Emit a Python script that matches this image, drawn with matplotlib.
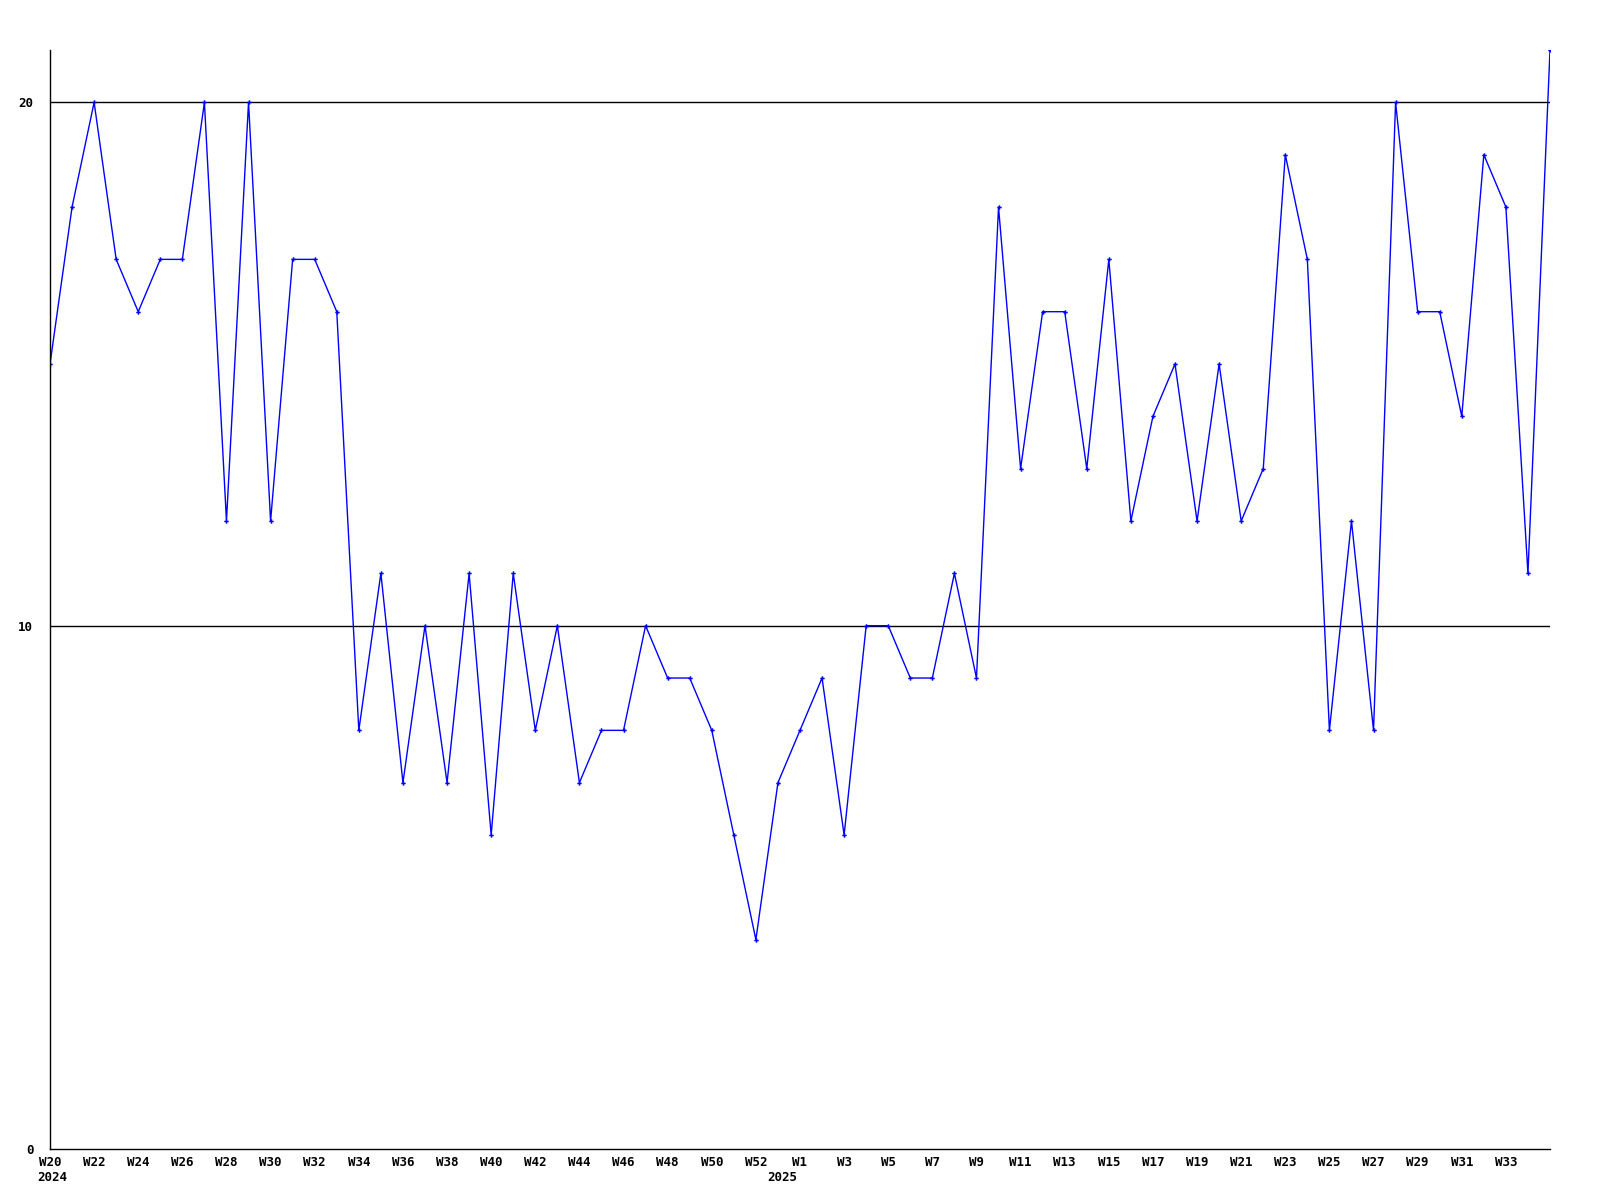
import matplotlib
matplotlib.use("Agg")
import matplotlib.pyplot as plt

weeks_2024 = ["W%d" % w for w in range(20, 54)]
weeks_2025 = ["W%d" % w for w in range(1, 36)]
values = [15, 18, 20, 17, 16, 17, 17, 20, 12, 20, 12, 17, 17, 16,
          8, 11, 7, 10, 7, 11, 6, 11, 8, 10, 7, 8, 8, 10, 9, 9, 8, 6, 4, 7,
          8, 9, 6, 10, 10, 9, 9, 11, 9, 18, 13, 16, 16, 13, 17, 12, 14, 15,
          12, 15, 12, 13, 19, 17, 8, 12, 8, 20, 16, 16, 14, 19, 18, 11, 21]
tick_labels_2024 = ["W20", "W22", "W24", "W26", "W28", "W30", "W32", "W34",
                    "W36", "W38", "W40", "W42", "W44", "W46", "W48", "W50",
                    "W52"]
tick_labels_2025 = ["W1", "W3", "W5", "W7", "W9", "W11", "W13", "W15", "W17",
                    "W19", "W21", "W23", "W25", "W27", "W29", "W31", "W33"]
year_labels = ["2024", "2025"]
ref_lines = [10, 20]
y_ticks = [0, 10, 20]

x = list(range(len(values)))
n24 = len(weeks_2024)
tick_idx = ([weeks_2024.index(l) for l in tick_labels_2024] +
            [n24 + weeks_2025.index(l) for l in tick_labels_2025])
tick_labels = tick_labels_2024 + tick_labels_2025

fig = plt.figure(figsize=(16, 12), dpi=100)
ax = fig.add_axes([0.03125, 0.0425, 0.9375, 0.9158])
font = dict(family="DejaVu Sans Mono", fontweight="bold", fontsize=9)

for r in ref_lines:
    ax.axhline(r, color="black", lw=1.0, zorder=1)
ax.plot(x, values, color="#0000ff", lw=1.0, marker="P", markersize=3.2,
        markeredgewidth=0, zorder=2, clip_on=True)

ax.set_xlim(0, len(values) - 1)
ax.set_ylim(0, 21)
for s in ["top", "right"]:
    ax.spines[s].set_visible(False)
for s in ["left", "bottom"]:
    ax.spines[s].set_linewidth(1.0)
ax.tick_params(length=0)
ax.set_xticks(tick_idx)
ax.set_xticklabels([])
ax.set_yticks(y_ticks)
ax.set_yticklabels([str(v) for v in y_ticks], **font)
ax.tick_params(axis="y", pad=12)

for i, lab in zip(tick_idx, tick_labels):
    ax.annotate(lab, xy=(i, 0), xycoords="data", xytext=(0, -5),
                textcoords="offset points", ha="center", va="top",
                annotation_clip=False, **font)

year_pos = [0.1, n24 - 0.8]
for xi, yl in zip(year_pos, year_labels):
    ax.annotate(yl, xy=(xi, 0), xycoords="data",
                xytext=(0, -16), textcoords="offset points",
                ha="center", va="top", annotation_clip=False, **font)

fig.savefig("out.png", dpi=100)
